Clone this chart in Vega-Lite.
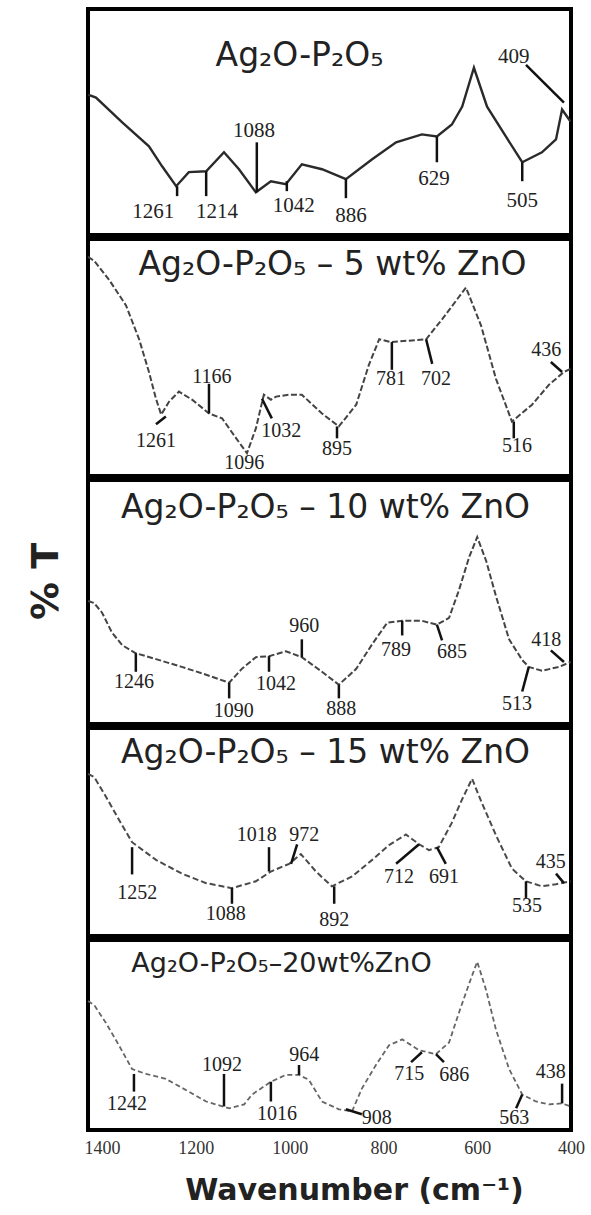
{
  "$schema": "https://vega.github.io/schema/vega-lite/v6.json",
  "background": "white",
  "padding": {"left": 25, "top": 7, "right": 2, "bottom": 2},
  "spacing": 0,
  "resolve": {"scale": {"x": "independent", "y": "independent"}},
  "config": {
    "view": {"stroke": "#000", "strokeWidth": 4},
    "title": {"font": "DejaVu Sans", "fontSize": 33, "fontWeight": "normal", "color": "#222", "frame": "group", "anchor": "middle"},
    "axis": {"grid": false}
  },
  "datasets": {
    "spectra": [
      {"panel":1,"wn":1430,"t":62.1},{"panel":1,"wn":1413,"t":60.8},{"panel":1,"wn":1357,"t":49.8},{"panel":1,"wn":1300,"t":39.2},{"panel":1,"wn":1272,"t":30.4},{"panel":1,"wn":1242,"t":21.6},{"panel":1,"wn":1215,"t":27.8},{"panel":1,"wn":1178,"t":28.2},{"panel":1,"wn":1140,"t":36.6},{"panel":1,"wn":1108,"t":29.1},{"panel":1,"wn":1072,"t":18.9},{"panel":1,"wn":1040,"t":23.8},{"panel":1,"wn":1008,"t":22.5},{"panel":1,"wn":974,"t":31.3},{"panel":1,"wn":931,"t":29.1},{"panel":1,"wn":880,"t":24.7},{"panel":1,"wn":824,"t":33.5},{"panel":1,"wn":773,"t":41.0},{"panel":1,"wn":718,"t":44.5},{"panel":1,"wn":686,"t":43.6},{"panel":1,"wn":654,"t":48.9},{"panel":1,"wn":632,"t":56.8},{"panel":1,"wn":607,"t":74.0},{"panel":1,"wn":579,"t":56.8},{"panel":1,"wn":539,"t":43.6},{"panel":1,"wn":504,"t":32.2},{"panel":1,"wn":462,"t":36.6},{"panel":1,"wn":432,"t":42.3},{"panel":1,"wn":419,"t":55.5},{"panel":1,"wn":401,"t":50.2},
      {"panel":2,"wn":1430,"t":92.5},{"panel":2,"wn":1417,"t":90.8},{"panel":2,"wn":1385,"t":82.8},{"panel":2,"wn":1349,"t":72.0},{"panel":2,"wn":1321,"t":57.7},{"panel":2,"wn":1300,"t":43.9},{"panel":2,"wn":1285,"t":32.6},{"panel":2,"wn":1274,"t":25.9},{"panel":2,"wn":1257,"t":31.4},{"panel":2,"wn":1236,"t":35.6},{"panel":2,"wn":1208,"t":32.2},{"panel":2,"wn":1172,"t":26.4},{"panel":2,"wn":1144,"t":24.3},{"panel":2,"wn":1114,"t":15.9},{"panel":2,"wn":1091,"t":9.6},{"panel":2,"wn":1072,"t":20.1},{"panel":2,"wn":1055,"t":34.3},{"panel":2,"wn":1040,"t":32.2},{"panel":2,"wn":1029,"t":33.5},{"panel":2,"wn":1001,"t":34.3},{"panel":2,"wn":974,"t":34.3},{"panel":2,"wn":931,"t":26.4},{"panel":2,"wn":895,"t":20.9},{"panel":2,"wn":858,"t":30.1},{"panel":2,"wn":831,"t":46.9},{"panel":2,"wn":809,"t":57.7},{"panel":2,"wn":784,"t":56.5},{"panel":2,"wn":709,"t":57.7},{"panel":2,"wn":675,"t":66.1},{"panel":2,"wn":624,"t":79.5},{"panel":2,"wn":592,"t":63.6},{"panel":2,"wn":560,"t":41.0},{"panel":2,"wn":526,"t":23.0},{"panel":2,"wn":483,"t":30.1},{"panel":2,"wn":447,"t":38.5},{"panel":2,"wn":415,"t":43.9},{"panel":2,"wn":401,"t":45.2},
      {"panel":3,"wn":1430,"t":50.4},{"panel":3,"wn":1417,"t":49.6},{"panel":3,"wn":1400,"t":45.6},{"panel":3,"wn":1379,"t":37.5},{"panel":3,"wn":1357,"t":32.3},{"panel":3,"wn":1328,"t":29.0},{"panel":3,"wn":1285,"t":26.6},{"panel":3,"wn":1230,"t":23.4},{"panel":3,"wn":1178,"t":20.2},{"panel":3,"wn":1129,"t":16.9},{"panel":3,"wn":1102,"t":22.6},{"panel":3,"wn":1072,"t":27.4},{"panel":3,"wn":1044,"t":27.8},{"panel":3,"wn":1008,"t":29.8},{"panel":3,"wn":974,"t":27.4},{"panel":3,"wn":931,"t":21.4},{"panel":3,"wn":895,"t":16.1},{"panel":3,"wn":858,"t":22.6},{"panel":3,"wn":824,"t":32.7},{"panel":3,"wn":792,"t":41.5},{"panel":3,"wn":760,"t":42.3},{"panel":3,"wn":718,"t":42.3},{"panel":3,"wn":686,"t":40.7},{"panel":3,"wn":660,"t":43.5},{"panel":3,"wn":639,"t":54.8},{"panel":3,"wn":617,"t":68.5},{"panel":3,"wn":600,"t":76.6},{"panel":3,"wn":581,"t":66.9},{"panel":3,"wn":560,"t":52.4},{"panel":3,"wn":532,"t":34.7},{"panel":3,"wn":504,"t":26.2},{"panel":3,"wn":490,"t":23.4},{"panel":3,"wn":462,"t":21.8},{"panel":3,"wn":426,"t":23.4},{"panel":3,"wn":401,"t":25.4},
      {"panel":4,"wn":1430,"t":77.9},{"panel":4,"wn":1417,"t":76.5},{"panel":4,"wn":1392,"t":67.1},{"panel":4,"wn":1364,"t":55.9},{"panel":4,"wn":1336,"t":45.1},{"panel":4,"wn":1285,"t":36.6},{"panel":4,"wn":1230,"t":30.0},{"panel":4,"wn":1178,"t":25.4},{"panel":4,"wn":1123,"t":23.0},{"panel":4,"wn":1072,"t":26.3},{"panel":4,"wn":1040,"t":31.0},{"panel":4,"wn":1001,"t":34.7},{"panel":4,"wn":976,"t":39.4},{"panel":4,"wn":944,"t":31.0},{"panel":4,"wn":910,"t":23.9},{"panel":4,"wn":867,"t":28.6},{"panel":4,"wn":824,"t":36.6},{"panel":4,"wn":788,"t":43.7},{"panel":4,"wn":752,"t":48.8},{"panel":4,"wn":724,"t":44.1},{"panel":4,"wn":703,"t":41.3},{"panel":4,"wn":682,"t":42.7},{"panel":4,"wn":654,"t":54.5},{"panel":4,"wn":633,"t":65.3},{"panel":4,"wn":611,"t":75.6},{"panel":4,"wn":590,"t":63.9},{"panel":4,"wn":560,"t":48.4},{"panel":4,"wn":526,"t":32.4},{"panel":4,"wn":496,"t":26.3},{"panel":4,"wn":462,"t":23.9},{"panel":4,"wn":432,"t":24.9},{"panel":4,"wn":401,"t":26.3},
      {"panel":5,"wn":1430,"t":67.9},{"panel":5,"wn":1417,"t":65.8},{"panel":5,"wn":1392,"t":56.5},{"panel":5,"wn":1364,"t":44.6},{"panel":5,"wn":1336,"t":32.1},{"panel":5,"wn":1306,"t":29.5},{"panel":5,"wn":1264,"t":26.9},{"panel":5,"wn":1215,"t":20.2},{"panel":5,"wn":1178,"t":15.0},{"panel":5,"wn":1129,"t":11.4},{"panel":5,"wn":1097,"t":13.5},{"panel":5,"wn":1080,"t":18.7},{"panel":5,"wn":1040,"t":25.4},{"panel":5,"wn":1008,"t":29.0},{"panel":5,"wn":980,"t":29.0},{"panel":5,"wn":959,"t":26.4},{"panel":5,"wn":931,"t":15.0},{"panel":5,"wn":895,"t":10.9},{"panel":5,"wn":867,"t":9.8},{"panel":5,"wn":846,"t":21.8},{"panel":5,"wn":816,"t":34.2},{"panel":5,"wn":788,"t":44.6},{"panel":5,"wn":760,"t":47.7},{"panel":5,"wn":724,"t":42.0},{"panel":5,"wn":688,"t":39.9},{"panel":5,"wn":660,"t":46.1},{"panel":5,"wn":639,"t":61.7},{"panel":5,"wn":617,"t":77.2},{"panel":5,"wn":600,"t":88.6},{"panel":5,"wn":581,"t":73.6},{"panel":5,"wn":560,"t":52.8},{"panel":5,"wn":532,"t":32.1},{"panel":5,"wn":504,"t":18.7},{"panel":5,"wn":475,"t":15.0},{"panel":5,"wn":447,"t":13.5},{"panel":5,"wn":419,"t":14.0},{"panel":5,"wn":401,"t":12.4}
    ],
    "peaks": [
      {"panel":1,"label":"1261","tx":1291,"ty":10.1,"x1":1240,"y1":21.6,"x2":1240,"y2":17.2},
      {"panel":1,"label":"1214","tx":1155,"ty":10.1,"x1":1178,"y1":28.2,"x2":1178,"y2":17.2},
      {"panel":1,"label":"1088","tx":1076,"ty":45.8,"x1":1070,"y1":41.0,"x2":1070,"y2":18.9},
      {"panel":1,"label":"1042","tx":991,"ty":12.8,"x1":1006,"y1":23.8,"x2":1006,"y2":19.4},
      {"panel":1,"label":"886","tx":869,"ty":8.4,"x1":880,"y1":24.7,"x2":880,"y2":16.3},
      {"panel":1,"label":"629","tx":692,"ty":24.7,"x1":686,"y1":43.6,"x2":686,"y2":32.2},
      {"panel":1,"label":"505","tx":504,"ty":15.0,"x1":504,"y1":32.2,"x2":504,"y2":23.8},
      {"panel":1,"label":"409","tx":522,"ty":78.9,"x1":496,"y1":75.3,"x2":415,"y2":58.6},
      {"panel":2,"label":"1261","tx":1285,"ty":14.6,"x1":1285,"y1":21.8,"x2":1264,"y2":25.1},
      {"panel":2,"label":"1166","tx":1166,"ty":41.8,"x1":1172,"y1":38.9,"x2":1172,"y2":26.4},
      {"panel":2,"label":"1096","tx":1097,"ty":5.4,"x1":null,"y1":null,"x2":null,"y2":null},
      {"panel":2,"label":"1032","tx":1018,"ty":18.8,"x1":1059,"y1":32.6,"x2":1038,"y2":24.3},
      {"panel":2,"label":"895","tx":899,"ty":11.3,"x1":899,"y1":20.9,"x2":899,"y2":15.9},
      {"panel":2,"label":"781","tx":784,"ty":41.0,"x1":782,"y1":56.5,"x2":782,"y2":44.8},
      {"panel":2,"label":"702","tx":688,"ty":41.0,"x1":709,"y1":57.7,"x2":696,"y2":47.3},
      {"panel":2,"label":"516","tx":515,"ty":12.6,"x1":522,"y1":23.0,"x2":522,"y2":15.9},
      {"panel":2,"label":"436","tx":453,"ty":53.1,"x1":443,"y1":48.1,"x2":419,"y2":43.9},
      {"panel":3,"label":"1246","tx":1332,"ty":17.3,"x1":1328,"y1":29.0,"x2":1328,"y2":21.4},
      {"panel":3,"label":"1090","tx":1119,"ty":5.2,"x1":1129,"y1":16.9,"x2":1129,"y2":10.5},
      {"panel":3,"label":"1042","tx":1029,"ty":16.5,"x1":1044,"y1":27.8,"x2":1044,"y2":21.4},
      {"panel":3,"label":"960","tx":969,"ty":40.3,"x1":974,"y1":27.4,"x2":974,"y2":34.7},
      {"panel":3,"label":"888","tx":890,"ty":6.0,"x1":895,"y1":16.1,"x2":895,"y2":10.5},
      {"panel":3,"label":"789","tx":773,"ty":30.2,"x1":760,"y1":42.3,"x2":760,"y2":36.3},
      {"panel":3,"label":"685","tx":654,"ty":29.4,"x1":686,"y1":40.7,"x2":675,"y2":34.3},
      {"panel":3,"label":"513","tx":515,"ty":8.1,"x1":490,"y1":23.4,"x2":504,"y2":13.3},
      {"panel":3,"label":"418","tx":453,"ty":34.3,"x1":443,"y1":30.2,"x2":415,"y2":25.4},
      {"panel":4,"label":"1252","tx":1325,"ty":20.7,"x1":1336,"y1":42.7,"x2":1336,"y2":29.6},
      {"panel":4,"label":"1088","tx":1136,"ty":10.8,"x1":1123,"y1":23.0,"x2":1123,"y2":15.5},
      {"panel":4,"label":"1018","tx":1070,"ty":48.4,"x1":1044,"y1":42.7,"x2":1044,"y2":31.0},
      {"panel":4,"label":"972","tx":969,"ty":48.4,"x1":984,"y1":44.1,"x2":997,"y2":34.7},
      {"panel":4,"label":"892","tx":905,"ty":7.5,"x1":905,"y1":23.9,"x2":905,"y2":15.5},
      {"panel":4,"label":"712","tx":767,"ty":28.6,"x1":724,"y1":44.1,"x2":773,"y2":34.7},
      {"panel":4,"label":"691","tx":671,"ty":28.6,"x1":686,"y1":42.7,"x2":667,"y2":34.7},
      {"panel":4,"label":"535","tx":494,"ty":14.6,"x1":496,"y1":26.3,"x2":496,"y2":18.3},
      {"panel":4,"label":"435","tx":443,"ty":35.7,"x1":432,"y1":30.0,"x2":415,"y2":25.4},
      {"panel":5,"label":"1242","tx":1347,"ty":13.5,"x1":1332,"y1":29.5,"x2":1332,"y2":20.2},
      {"panel":5,"label":"1092","tx":1144,"ty":34.2,"x1":1140,"y1":29.5,"x2":1140,"y2":12.4},
      {"panel":5,"label":"1016","tx":1027,"ty":8.3,"x1":1040,"y1":25.4,"x2":1040,"y2":15.0},
      {"panel":5,"label":"964","tx":969,"ty":39.4,"x1":980,"y1":29.0,"x2":980,"y2":34.2},
      {"panel":5,"label":"908","tx":814,"ty":6.2,"x1":880,"y1":10.9,"x2":846,"y2":8.3},
      {"panel":5,"label":"715","tx":745,"ty":29.5,"x1":718,"y1":40.9,"x2":741,"y2":35.7},
      {"panel":5,"label":"686","tx":649,"ty":29.0,"x1":688,"y1":39.9,"x2":671,"y2":35.7},
      {"panel":5,"label":"563","tx":521,"ty":6.2,"x1":504,"y1":18.7,"x2":517,"y2":11.4},
      {"panel":5,"label":"438","tx":443,"ty":30.6,"x1":419,"y1":24.4,"x2":419,"y2":14.0}
    ]
  },
  "vconcat": [
    {
      "width": 483, "height": 226,
      "title": {"text": "Ag₂O-P₂O₅", "offset": -64, "dx": -30},
      "layer": [
        {"data": {"name": "spectra"}, "transform": [{"filter": "datum.panel === 1"}],
         "mark": {"type": "line", "color": "#2a2a2a", "strokeWidth": 2.4},
         "encoding": {"x": {"field": "wn", "type": "quantitative", "scale": {"domain": [400, 1430], "reverse": true, "nice": false, "zero": false}, "axis": null},
                      "y": {"field": "t", "type": "quantitative", "scale": {"domain": [0, 100], "nice": false, "zero": false}, "axis": null}}},
        {"data": {"name": "peaks"}, "transform": [{"filter": "datum.panel === 1 && datum.x1 != null"}],
         "mark": {"type": "rule", "color": "#111", "strokeWidth": 2.5},
         "encoding": {"x": {"field": "x1", "type": "quantitative", "scale": {"domain": [400, 1430], "reverse": true, "nice": false, "zero": false}, "axis": null}, "x2": {"field": "x2"},
                      "y": {"field": "y1", "type": "quantitative", "scale": {"domain": [0, 100], "nice": false, "zero": false}, "axis": null}, "y2": {"field": "y2"}}},
        {"data": {"name": "peaks"}, "transform": [{"filter": "datum.panel === 1"}],
         "mark": {"type": "text", "font": "Liberation Serif", "fontSize": 21, "color": "#222", "align": "center", "baseline": "middle"},
         "encoding": {"x": {"field": "tx", "type": "quantitative", "scale": {"domain": [400, 1430], "reverse": true, "nice": false, "zero": false}, "axis": null},
                      "y": {"field": "ty", "type": "quantitative", "scale": {"domain": [0, 100], "nice": false, "zero": false}, "axis": null},
                      "text": {"field": "label"}}}
      ]
    },
    {
      "width": 483, "height": 237,
      "title": {"text": "Ag₂O-P₂O₅ – 5 wt% ZnO", "offset": -43, "dx": 3},
      "layer": [
        {"data": {"name": "spectra"}, "transform": [{"filter": "datum.panel === 2"}],
         "mark": {"type": "line", "color": "#444", "strokeWidth": 2, "strokeDash": [6, 2.5]},
         "encoding": {"x": {"field": "wn", "type": "quantitative", "scale": {"domain": [400, 1430], "reverse": true, "nice": false, "zero": false}, "axis": null},
                      "y": {"field": "t", "type": "quantitative", "scale": {"domain": [0, 100], "nice": false, "zero": false}, "axis": null}}},
        {"data": {"name": "peaks"}, "transform": [{"filter": "datum.panel === 2 && datum.x1 != null"}],
         "mark": {"type": "rule", "color": "#111", "strokeWidth": 2.5},
         "encoding": {"x": {"field": "x1", "type": "quantitative", "scale": {"domain": [400, 1430], "reverse": true, "nice": false, "zero": false}, "axis": null}, "x2": {"field": "x2"},
                      "y": {"field": "y1", "type": "quantitative", "scale": {"domain": [0, 100], "nice": false, "zero": false}, "axis": null}, "y2": {"field": "y2"}}},
        {"data": {"name": "peaks"}, "transform": [{"filter": "datum.panel === 2"}],
         "mark": {"type": "text", "font": "Liberation Serif", "fontSize": 20, "color": "#222", "align": "center", "baseline": "middle"},
         "encoding": {"x": {"field": "tx", "type": "quantitative", "scale": {"domain": [400, 1430], "reverse": true, "nice": false, "zero": false}, "axis": null},
                      "y": {"field": "ty", "type": "quantitative", "scale": {"domain": [0, 100], "nice": false, "zero": false}, "axis": null},
                      "text": {"field": "label"}}}
      ]
    },
    {
      "width": 483, "height": 244,
      "title": {"text": "Ag₂O-P₂O₅ – 10 wt% ZnO", "offset": -45, "dx": -4},
      "layer": [
        {"data": {"name": "spectra"}, "transform": [{"filter": "datum.panel === 3"}],
         "mark": {"type": "line", "color": "#444", "strokeWidth": 2, "strokeDash": [6, 2.5]},
         "encoding": {"x": {"field": "wn", "type": "quantitative", "scale": {"domain": [400, 1430], "reverse": true, "nice": false, "zero": false}, "axis": null},
                      "y": {"field": "t", "type": "quantitative", "scale": {"domain": [0, 100], "nice": false, "zero": false},
                            "axis": {"title": "% T", "labels": false, "ticks": false, "domain": false, "grid": false, "titleFont": "DejaVu Sans", "titleFontSize": 38, "titleFontWeight": "bold", "titleColor": "#222", "titleX": -42, "titleY": 101, "titleAngle": 270, "titleAlign": "center", "titleBaseline": "middle"}}}},
        {"data": {"name": "peaks"}, "transform": [{"filter": "datum.panel === 3 && datum.x1 != null"}],
         "mark": {"type": "rule", "color": "#111", "strokeWidth": 2.5},
         "encoding": {"x": {"field": "x1", "type": "quantitative", "scale": {"domain": [400, 1430], "reverse": true, "nice": false, "zero": false}, "axis": null}, "x2": {"field": "x2"},
                      "y": {"field": "y1", "type": "quantitative", "scale": {"domain": [0, 100], "nice": false, "zero": false},
                            "axis": {"title": "% T", "labels": false, "ticks": false, "domain": false, "grid": false, "titleFont": "DejaVu Sans", "titleFontSize": 38, "titleFontWeight": "bold", "titleColor": "#222", "titleX": -42, "titleY": 101, "titleAngle": 270, "titleAlign": "center", "titleBaseline": "middle"}}, "y2": {"field": "y2"}}},
        {"data": {"name": "peaks"}, "transform": [{"filter": "datum.panel === 3"}],
         "mark": {"type": "text", "font": "Liberation Serif", "fontSize": 20, "color": "#222", "align": "center", "baseline": "middle"},
         "encoding": {"x": {"field": "tx", "type": "quantitative", "scale": {"domain": [400, 1430], "reverse": true, "nice": false, "zero": false}, "axis": null},
                      "y": {"field": "ty", "type": "quantitative", "scale": {"domain": [0, 100], "nice": false, "zero": false},
                            "axis": {"title": "% T", "labels": false, "ticks": false, "domain": false, "grid": false, "titleFont": "DejaVu Sans", "titleFontSize": 38, "titleFontWeight": "bold", "titleColor": "#222", "titleX": -42, "titleY": 101, "titleAngle": 270, "titleAlign": "center", "titleBaseline": "middle"}},
                      "text": {"field": "label"}}}
      ]
    },
    {
      "width": 483, "height": 208,
      "title": {"text": "Ag₂O-P₂O₅ – 15 wt% ZnO", "offset": -42, "dx": -4},
      "layer": [
        {"data": {"name": "spectra"}, "transform": [{"filter": "datum.panel === 4"}],
         "mark": {"type": "line", "color": "#4a4a4a", "strokeWidth": 2, "strokeDash": [6, 3]},
         "encoding": {"x": {"field": "wn", "type": "quantitative", "scale": {"domain": [400, 1430], "reverse": true, "nice": false, "zero": false}, "axis": null},
                      "y": {"field": "t", "type": "quantitative", "scale": {"domain": [0, 100], "nice": false, "zero": false}, "axis": null}}},
        {"data": {"name": "peaks"}, "transform": [{"filter": "datum.panel === 4 && datum.x1 != null"}],
         "mark": {"type": "rule", "color": "#111", "strokeWidth": 2.5},
         "encoding": {"x": {"field": "x1", "type": "quantitative", "scale": {"domain": [400, 1430], "reverse": true, "nice": false, "zero": false}, "axis": null}, "x2": {"field": "x2"},
                      "y": {"field": "y1", "type": "quantitative", "scale": {"domain": [0, 100], "nice": false, "zero": false}, "axis": null}, "y2": {"field": "y2"}}},
        {"data": {"name": "peaks"}, "transform": [{"filter": "datum.panel === 4"}],
         "mark": {"type": "text", "font": "Liberation Serif", "fontSize": 20, "color": "#222", "align": "center", "baseline": "middle"},
         "encoding": {"x": {"field": "tx", "type": "quantitative", "scale": {"domain": [400, 1430], "reverse": true, "nice": false, "zero": false}, "axis": null},
                      "y": {"field": "ty", "type": "quantitative", "scale": {"domain": [0, 100], "nice": false, "zero": false}, "axis": null},
                      "text": {"field": "label"}}}
      ]
    },
    {
      "width": 483, "height": 190,
      "title": {"text": "Ag₂O-P₂O₅–20wt%ZnO", "offset": -38, "dx": -48, "fontSize": 27},
      "layer": [
        {"data": {"name": "spectra"}, "transform": [{"filter": "datum.panel === 5"}],
         "mark": {"type": "line", "color": "#666", "strokeWidth": 1.8, "strokeDash": [5, 3]},
         "encoding": {"x": {"field": "wn", "type": "quantitative", "scale": {"domain": [400, 1430], "reverse": true, "nice": false, "zero": false},
                            "axis": {"values": [1400, 1200, 1000, 800, 600, 400], "format": "d", "ticks": false, "domain": false, "grid": false, "labelFont": "Liberation Serif", "labelFontSize": 18, "labelColor": "#333", "labelPadding": 9, "labelFlush": false, "labelOverlap": false,
                                     "title": "Wavenumber (cm⁻¹)", "titleFont": "DejaVu Sans", "titleFontSize": 30, "titleFontWeight": "bold", "titleColor": "#222", "titleX": 266, "titleY": 60, "titleAlign": "center", "titleBaseline": "middle"}},
                      "y": {"field": "t", "type": "quantitative", "scale": {"domain": [0, 100], "nice": false, "zero": false}, "axis": null}}},
        {"data": {"name": "peaks"}, "transform": [{"filter": "datum.panel === 5 && datum.x1 != null"}],
         "mark": {"type": "rule", "color": "#111", "strokeWidth": 2.5},
         "encoding": {"x": {"field": "x1", "type": "quantitative", "scale": {"domain": [400, 1430], "reverse": true, "nice": false, "zero": false},
                            "axis": {"values": [1400, 1200, 1000, 800, 600, 400], "format": "d", "ticks": false, "domain": false, "grid": false, "labelFont": "Liberation Serif", "labelFontSize": 18, "labelColor": "#333", "labelPadding": 9, "labelFlush": false, "labelOverlap": false,
                                     "title": "Wavenumber (cm⁻¹)", "titleFont": "DejaVu Sans", "titleFontSize": 30, "titleFontWeight": "bold", "titleColor": "#222", "titleX": 266, "titleY": 60, "titleAlign": "center", "titleBaseline": "middle"}}, "x2": {"field": "x2"},
                      "y": {"field": "y1", "type": "quantitative", "scale": {"domain": [0, 100], "nice": false, "zero": false}, "axis": null}, "y2": {"field": "y2"}}},
        {"data": {"name": "peaks"}, "transform": [{"filter": "datum.panel === 5"}],
         "mark": {"type": "text", "font": "Liberation Serif", "fontSize": 20, "color": "#222", "align": "center", "baseline": "middle"},
         "encoding": {"x": {"field": "tx", "type": "quantitative", "scale": {"domain": [400, 1430], "reverse": true, "nice": false, "zero": false},
                            "axis": {"values": [1400, 1200, 1000, 800, 600, 400], "format": "d", "ticks": false, "domain": false, "grid": false, "labelFont": "Liberation Serif", "labelFontSize": 18, "labelColor": "#333", "labelPadding": 9, "labelFlush": false, "labelOverlap": false,
                                     "title": "Wavenumber (cm⁻¹)", "titleFont": "DejaVu Sans", "titleFontSize": 30, "titleFontWeight": "bold", "titleColor": "#222", "titleX": 266, "titleY": 60, "titleAlign": "center", "titleBaseline": "middle"}},
                      "y": {"field": "ty", "type": "quantitative", "scale": {"domain": [0, 100], "nice": false, "zero": false}, "axis": null},
                      "text": {"field": "label"}}}
      ]
    }
  ]
}
